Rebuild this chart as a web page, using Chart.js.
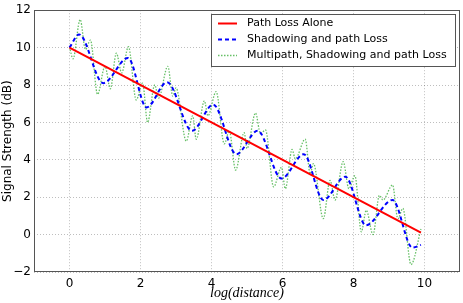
<!DOCTYPE html>
<html lang="en">
<head>
  <meta charset="UTF-8">
  <title>Signal Strength vs log(distance)</title>
  <script src="https://cdn.jsdelivr.net/npm/chart.js"></script>
  <style>
    body {
      margin: 0;
      padding: 0;
      background: #ffffff;
    }
    #chart {
      display: block;
    }
  </style>
</head>
<body>
  <canvas id="chart" width="463" height="303"></canvas>

  <script>
    // tick labels
    const xTicks = [0, 2, 4, 6, 8, 10];
    const yTicks = [-2, 0, 2, 4, 6, 8, 10, 12];

    // path loss alone
    const xRed = [0, 9.9];
    const yRed = [10, 0.1];

    // shadowing and path loss (turning points)
    const xBlue = [0, 0.27, 0.95, 1.65, 2.17, 2.75, 3.45, 4.05, 4.7, 5.3, 5.97, 6.6, 7.15, 7.77, 8.35, 9.1, 9.66, 9.9];
    const yBlue = [10, 10.7, 8.1, 9.45, 6.8, 8.15, 5.55, 6.95, 4.3, 5.55, 3.0, 4.3, 1.85, 3.1, 0.5, 1.85, -0.7, -0.55];

    // multipath, shadowing and path loss
    const xGreen = [0, 0.1, 0.3, 0.45, 0.59, 0.79, 1.0, 1.15, 1.32, 1.47, 1.66, 1.88, 2.06, 2.2, 2.4, 2.51, 2.77, 2.91, 3.0,
                    3.29, 3.47, 3.57, 3.8, 3.9, 4.13, 4.36, 4.5, 4.68, 4.92, 5.0, 5.24, 5.38, 5.52, 5.75, 5.97, 6.08, 6.27,
                    6.36, 6.64, 6.78, 6.87, 7.15, 7.34, 7.48, 7.71, 7.87, 8.04, 8.22, 8.36, 8.55, 8.73, 8.83, 9.1, 9.25,
                    9.39, 9.62, 9.9];
    const yGreen = [10.05, 9.4, 11.5, 9.9, 10.4, 7.5, 9.0, 7.8, 9.7, 8.65, 10.05, 7.2, 8.1, 6.0, 8.0, 7.3, 9.0, 7.4, 7.85,
                    5.0, 6.35, 5.1, 7.15, 6.35, 7.65, 4.85, 5.55, 3.45, 5.45, 4.6, 6.5, 5.4, 5.6, 2.55, 3.6, 2.45, 4.55,
                    4.05, 5.1, 3.25, 3.8, 0.85, 2.9, 1.85, 3.9, 2.45, 3.15, 0.15, 1.3, 0.0, 2.1, 1.85, 2.65, 0.85,
                    1.4, -1.6, 0.3];

    const toPoints = (xs, ys) => xs.map((x, i) => ({ x: x, y: ys[i] }));

    Chart.defaults.font.family = "'DejaVu Sans', sans-serif";
    Chart.defaults.color = '#000';

    // frame around the plot and the boxed legend in the upper right
    const framePlugin = {
      id: 'frame',
      afterDraw(chart) {
        const ctx = chart.ctx;
        const a = chart.chartArea;
        ctx.save();
        ctx.strokeStyle = '#555';
        ctx.lineWidth = 1;
        ctx.strokeRect(Math.round(a.left) + 0.5, Math.round(a.top) + 0.5,
                       Math.round(a.right - a.left) - 1, Math.round(a.bottom - a.top) - 1);

        // legend
        const bx = 211.5, by = 14.5, bw = 244, bh = 52;
        ctx.fillStyle = '#fff';
        ctx.fillRect(bx, by, bw, bh);
        ctx.strokeStyle = '#555';
        ctx.strokeRect(bx, by, bw, bh);
        ctx.font = "11px 'DejaVu Sans'";
        ctx.textBaseline = 'middle';
        chart.data.datasets.forEach((ds, i) => {
          const y = 23.5 + i * 16;
          ctx.strokeStyle = ds.borderColor;
          ctx.lineWidth = ds.borderWidth;
          ctx.setLineDash(ds.borderDash || []);
          ctx.beginPath();
          ctx.moveTo(218, y); ctx.lineTo(237, y);
          ctx.stroke();
          ctx.setLineDash([]);
          ctx.fillStyle = '#000';
          ctx.fillText(ds.label, 247, y);
        });
        ctx.restore();
      }
    };

    new Chart(document.getElementById('chart').getContext('2d'), {
      type: 'line',
      data: {
        datasets: [
          {
            label: 'Path Loss Alone',
            data: toPoints(xRed, yRed),
            borderColor: '#ff0000',
            borderWidth: 2,
            pointRadius: 0
          },
          {
            label: 'Shadowing and path Loss',
            data: toPoints(xBlue, yBlue),
            borderColor: '#0000ff',
            borderWidth: 2,
            borderDash: [4, 3],
            cubicInterpolationMode: 'monotone',
            pointRadius: 0
          },
          {
            label: 'Multipath, Shadowing and path Loss',
            data: toPoints(xGreen, yGreen),
            borderColor: 'rgba(0, 150, 0, 0.6)',
            borderWidth: 1.3,
            borderDash: [1.5, 1.5],
            cubicInterpolationMode: 'monotone',
            pointRadius: 0
          }
        ]
      },
      options: {
        responsive: false,
        animation: false,
        layout: { padding: { left: 0, right: 3, top: 8, bottom: 0 } },
        plugins: {
          legend: { display: false },
          tooltip: { enabled: false }
        },
        scales: {
          x: {
            type: 'linear',
            min: -1,
            max: 11,
            afterBuildTicks: s => { s.ticks = xTicks.map(v => ({ value: v })); },
            afterFit: s => { s.height = 31; },
            border: { display: false, dash: [1, 2] },
            grid: { color: 'rgba(0, 0, 0, 0.32)', lineWidth: 0.8, drawTicks: false },
            ticks: { font: { size: 12 }, padding: 5, maxRotation: 0 },
            title: {
              display: true,
              text: 'log(distance)',
              font: { family: "'Liberation Serif', serif", style: 'italic', size: 14 },
              padding: { top: 0, bottom: 1 }
            }
          },
          y: {
            type: 'linear',
            min: -2,
            max: 12,
            afterBuildTicks: s => { s.ticks = yTicks.map(v => ({ value: v })); },
            afterFit: s => { s.width = 34; },
            border: { display: false, dash: [1, 2] },
            grid: { color: 'rgba(0, 0, 0, 0.32)', lineWidth: 0.8, drawTicks: false },
            ticks: {
              font: { size: 12 },
              padding: 3,
              callback: v => String(v).replace('-', '\u2212')
            },
            title: {
              display: true,
              text: 'Signal Strength (dB)',
              font: { size: 12 },
              padding: { top: 1, bottom: 0 }
            }
          }
        }
      },
      plugins: [framePlugin]
    });
  </script>
</body>
</html>
